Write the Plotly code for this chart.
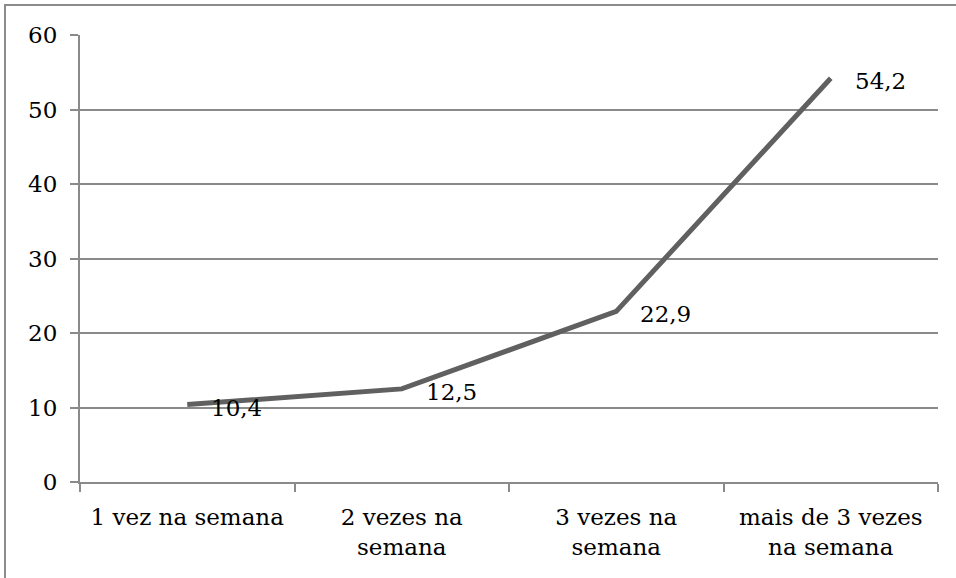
import plotly.graph_objects as go

categories = ["1 vez na semana", "2 vezes na<br>semana", "3 vezes na<br>semana", "mais de 3 vezes<br>na semana"]
values = [10.4, 12.5, 22.9, 54.2]
value_labels = ["10,4", "12,5", "22,9", "54,2"]
y_ticks = [0, 10, 20, 30, 40, 50, 60]

W, H = 956, 578
L, R, T, B = 80, 18, 35, 96
pw, ph = W - L - R, H - T - B

grid_col = "#8a8a8a"
font = dict(family="DejaVu Serif", size=23, color="#000000")

fig = go.Figure()
fig.add_trace(go.Scatter(
    x=categories, y=values, mode="lines",
    line=dict(color="#606060", width=5),
    showlegend=False,
))

# value labels to the right of each point
for c, v, t in zip(categories, values, value_labels):
    fig.add_annotation(x=c, y=v, text=t, showarrow=False, xanchor="left",
                       yanchor="middle", xshift=22, yshift=-3, font=font)

# outer frame around the chart
fig.add_shape(type="rect", xref="paper", yref="paper",
              x0=(5 - L) / pw, x1=(W + 10 - L) / pw,
              y0=(ph + T - (H + 10)) / ph, y1=(ph + T - 5) / ph,
              line=dict(color="#8c8c8c", width=2), layer="below")

fig.update_layout(
    width=W, height=H,
    margin=dict(l=L, r=R, t=T, b=B),
    paper_bgcolor="white", plot_bgcolor="white",
    font=font,
    xaxis=dict(
        type="category", showgrid=False, showline=True, linecolor=grid_col, linewidth=2,
        ticks="outside", ticklen=8, tickcolor=grid_col, tickwidth=2, tickson="boundaries",
        tickfont=font, range=[-0.5, 3.5], ticklabelstandoff=13,
    ),
    yaxis=dict(
        range=[0, 60], tickvals=y_ticks, showgrid=True, gridcolor=grid_col, gridwidth=2,
        showline=True, linecolor=grid_col, linewidth=2, zeroline=False,
        ticks="outside", ticklen=8, tickcolor=grid_col, tickwidth=2,
        tickfont=font, ticklabelstandoff=8,
    ),
)

fig.write_html("out.html")
